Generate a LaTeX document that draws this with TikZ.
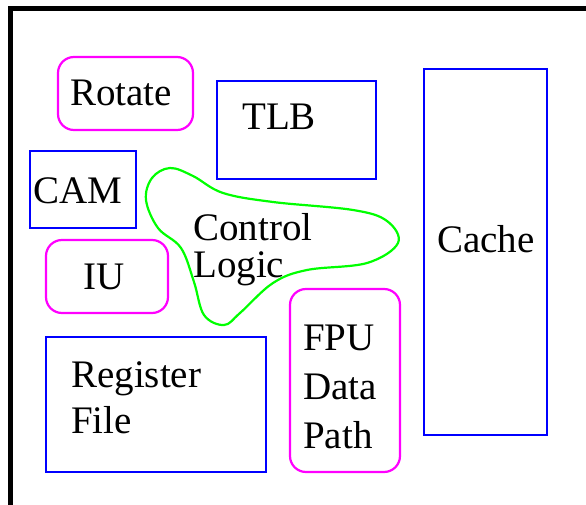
\documentclass[tikz,border=0pt]{standalone}
\usepackage{fontspec}
\setmainfont{Liberation Serif}
\usepackage{tikz}
\usetikzlibrary{positioning}
\definecolor{pink}{RGB}{255,0,255}
\definecolor{blu}{RGB}{0,0,255}
\definecolor{grn}{RGB}{0,255,0}

\begin{document}
\begin{tikzpicture}[x=1pt, y=-1pt,
		blk/.style={rectangle, draw=blu, line width=2.2pt, inner sep=0pt},
		rblk/.style={rectangle, rounded corners=16pt, draw=pink, line width=2.2pt, inner sep=0pt},
		lbl/.style={anchor=base west, inner sep=0pt, align=left, font=\fontsize{39}{49}\selectfont}]
				\useasboundingbox (0,0) rectangle (586,505);
				\draw[line width=5pt] (586,9) -| (10,505);
				
				% blocks
				\node[rblk, minimum width=135pt, minimum height=73pt] (rot) at (125.5,93.5) {};
				\node[blk, minimum width=159pt, minimum height=98pt] (tlb) at (296.5,130) {};
				\node[blk, minimum width=123pt, minimum height=366pt] (cache) at (485.5,252) {};
				\node[blk, minimum width=106pt, minimum height=77pt] (cam) at (83,189.5) {};
				\node[rblk, minimum width=122pt, minimum height=73pt] (iu) at (107,276.5) {};
				\node[blk, minimum width=220pt, minimum height=135pt] (rf) at (156,404.5) {};
				\node[rblk, minimum width=110pt, minimum height=183pt] (fpu) at (345,380.5) {};
				
				% control logic
				\draw[grn, line width=2.2pt] plot[smooth cycle, tension=0.6] coordinates {
					(170,168) (193,176) (223,193) (273,202) (353,210) (387,221) (398,243)
					(367,263) (307,270) (273,283) (240,313) (224,325) (204,315) (194,282)
					(181,248) (158,228) (146,200) (152,178)};
				
				% labels
				\node[lbl] (rotlbl) at (70,106) {Rotate};
				\node[lbl] (tlblbl) at (242,130) {TLB};
				\node[lbl] (cachelbl) at (437,252) {Cache};
				\node[lbl] (camlbl) at (33,204) {CAM};
				\node[lbl] (iulbl) at (83,289) {IU};
				\node[lbl, font=\fontsize{39}{37}\selectfont] (ctllbl) at (193,277) {Control\\Logic};
				\node[lbl, font=\fontsize{39}{46}\selectfont] (rflbl) at (71,433) {Register\\File};
				\node[lbl] (fpulbl) at (303,448) {FPU\\Data\\Path};
			\end{tikzpicture}
\end{document}
